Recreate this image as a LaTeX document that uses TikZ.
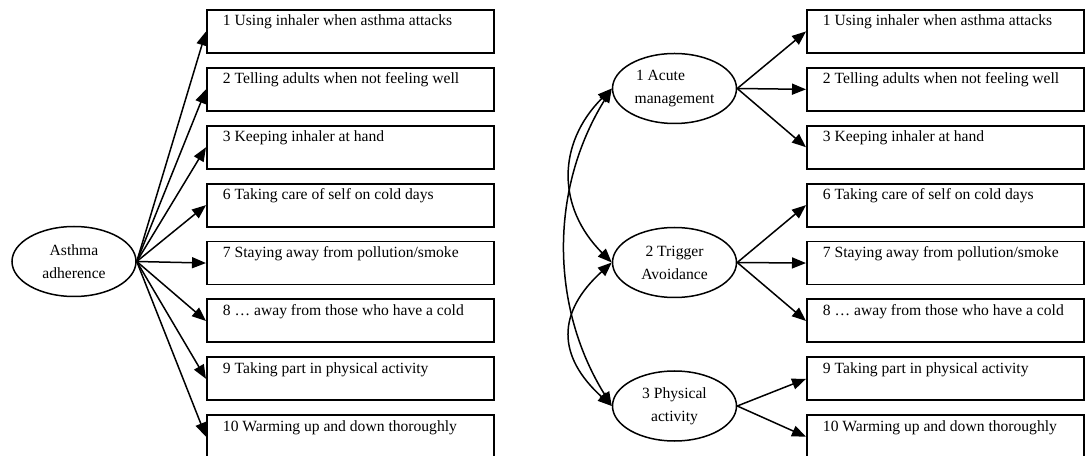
\documentclass[tikz,border=0pt]{standalone}
\usepackage{fontspec}
\setmainfont{Liberation Serif}
\usetikzlibrary{shapes.geometric,arrows.meta}

% item labels are set on one line, flush left inside the box
\newcommand\lineL[1]{\makebox[255bp][l]{#1}}
\newcommand\lineR[1]{\makebox[245bp][l]{#1}}

\tikzset{
  txt/.style={font=\fontsize{15.6bp}{23bp}\selectfont},
  item/.style={txt, draw, line width=1.9bp, rectangle, anchor=north west,
    inner xsep=16bp, inner ysep=5bp,
    text height=11bp, text depth=22bp},
  factor/.style={txt, draw, line width=1.5bp, ellipse, inner sep=0pt,
    minimum width=124bp, minimum height=70bp, align=center},
  load/.style={line width=1.5bp, -{Triangle[length=14bp,width=11bp]}},
  corr/.style={line width=1.5bp,
    {Triangle[length=14bp,width=11bp]}-{Triangle[length=14bp,width=11bp]}}
}

\begin{document}
\begin{tikzpicture}[x=1bp, y=-1bp]
\useasboundingbox (0,0) rectangle (1085,456);

% ---------- one-factor model ----------
\node[factor] (adh) at (74,261.5) {Asthma\\adherence};

\node[item] (l1)  at (206,9.0)   {\lineL{1 Using inhaler when asthma attacks}};
\node[item] (l2)  at (206,66.9)  {\lineL{2 Telling adults when not feeling well}};
\node[item] (l3)  at (206,124.8) {\lineL{3 Keeping inhaler at hand}};
\node[item] (l6)  at (206,182.7) {\lineL{6 Taking care of self on cold days}};
\node[item] (l7)  at (206,240.6) {\lineL{7 Staying away from pollution/smoke}};
\node[item] (l8)  at (206,298.5) {\lineL{8 … away from those who have a cold}};
\node[item] (l9)  at (206,356.4) {\lineL{9 Taking part in physical activity}};
\node[item] (l10) at (206,414.3) {\lineL{10 Warming up and down thoroughly}};

\foreach \b in {l1,l2,l3,l6,l7,l8,l9,l10}
  \draw[load] (adh.east) -- (\b.west);

% ---------- three-factor model ----------
\node[factor] (acute)  at (674.5,88.5)  {1 Acute\hspace*{28bp}\\management};
\node[factor] (trig)   at (674.5,262.5) {2 Trigger\\Avoidance};
\node[factor] (phys)   at (674.5,406)   {3 Physical\\activity};

\node[item] (r1)  at (806,9.0)   {\lineR{1 Using inhaler when asthma attacks}};
\node[item] (r2)  at (806,66.9)  {\lineR{2 Telling adults when not feeling well}};
\node[item] (r3)  at (806,124.8) {\lineR{3 Keeping inhaler at hand}};
\node[item] (r6)  at (806,182.7) {\lineR{6 Taking care of self on cold days}};
\node[item] (r7)  at (806,240.6) {\lineR{7 Staying away from pollution/smoke}};
\node[item] (r8)  at (806,298.5) {\lineR{8 … away from those who have a cold}};
\node[item] (r9)  at (806,356.4) {\lineR{9 Taking part in physical activity}};
\node[item] (r10) at (806,414.3) {\lineR{10 Warming up and down thoroughly}};

\foreach \b in {r1,r2,r3} \draw[load] (acute.east) -- (\b.west);
\foreach \b in {r6,r7,r8} \draw[load] (trig.east) -- (\b.west);
\foreach \b in {r9,r10}   \draw[load] (phys.east) -- (\b.west);

% factor covariances
\draw[corr] (acute.west) .. controls +(-55,55) and +(-55,-55) .. (trig.west);
\draw[corr] (trig.west) .. controls +(-55,50) and +(-55,-50) .. (phys.west);
\draw[corr] (acute.west) .. controls +(-62,100) and +(-62,-100) .. (phys.west);
\end{tikzpicture}
\end{document}
